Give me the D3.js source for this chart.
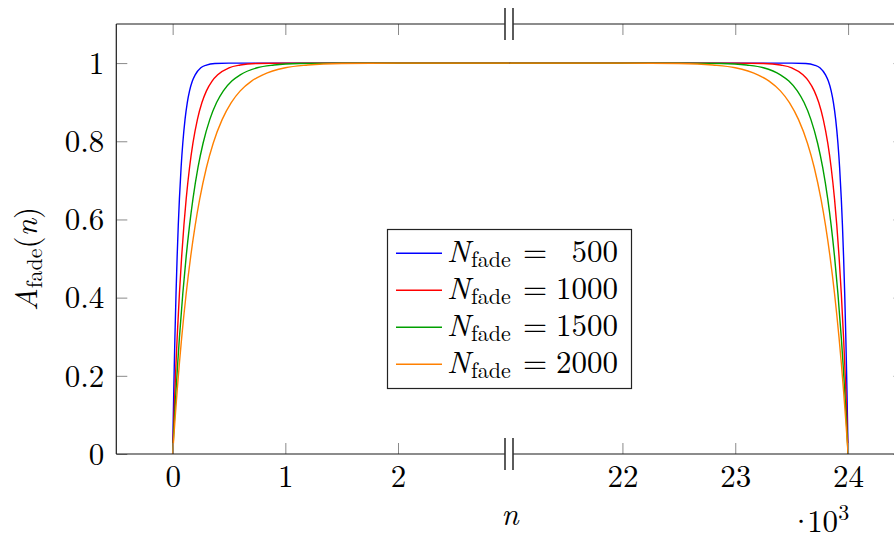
<!DOCTYPE html>
<html>
<head>
<meta charset="utf-8">
<script src="https://cdn.jsdelivr.net/npm/d3@7"></script>
<style>
  html, body { margin: 0; padding: 0; background: #fff; }
  svg { display: block; }
</style>
</head>
<body>
<svg id="chart" width="894" height="541"></svg>
<script>
// ---------------- data ----------------
const nEnd = 24000;                       // total signal length (samples)
const fadeLengths = [500, 1000, 1500, 2000];
const legendNumbers = ["500", "1000", "1500", "2000"];
const xTicksLeft = [0, 1000, 2000];
const xTicksRight = [22000, 23000, 24000];
const yTicks = [0, 0.2, 0.4, 0.6, 0.8, 1];

// distance from the nearest signal edge (samples) for each series
const edgeOffset500  = [0, 5, 10, 15, 20, 30, 40, 50, 60, 75, 90, 110, 130, 150, 175, 200, 250, 300, 375, 500, 750, 3000];
const edgeOffset1000 = [0, 10, 20, 30, 40, 60, 80, 100, 120, 150, 180, 220, 260, 300, 350, 400, 500, 600, 750, 1000, 1500, 3000];
const edgeOffset1500 = [0, 15, 30, 45, 60, 90, 120, 150, 180, 225, 270, 330, 390, 450, 525, 600, 750, 900, 1125, 1500, 2250, 3000];
const edgeOffset2000 = [0, 20, 40, 60, 80, 120, 160, 200, 240, 300, 360, 440, 520, 600, 700, 800, 1000, 1200, 1500, 2000, 2500, 3000];

// amplitude read at those offsets
const amp500  = [0, 0.084, 0.161, 0.232, 0.297, 0.410, 0.505, 0.585, 0.652, 0.733, 0.795, 0.856, 0.899, 0.929, 0.954, 0.970, 0.988, 0.995, 0.999, 1, 1, 1];
const amp1000 = [0, 0.084, 0.161, 0.232, 0.297, 0.410, 0.505, 0.585, 0.652, 0.733, 0.795, 0.856, 0.899, 0.929, 0.954, 0.970, 0.988, 0.995, 0.999, 1, 1, 1];
const amp1500 = [0, 0.084, 0.161, 0.232, 0.297, 0.410, 0.505, 0.585, 0.652, 0.733, 0.795, 0.856, 0.899, 0.929, 0.954, 0.970, 0.988, 0.995, 0.999, 1, 1, 1];
const amp2000 = [0, 0.084, 0.161, 0.232, 0.297, 0.410, 0.505, 0.585, 0.652, 0.733, 0.795, 0.856, 0.899, 0.929, 0.954, 0.970, 0.988, 0.995, 0.999, 1, 1, 1];

const seriesOffsets = [edgeOffset500, edgeOffset1000, edgeOffset1500, edgeOffset2000];
const seriesAmps = [amp500, amp1000, amp1500, amp2000];

// ---------------- style ----------------
const colors = ["#0000ff", "#ff0000", "#00a000", "#ff8000"];
const FS = 31;
const SUB = 22;
const SERIF = '"Latin Modern Roman", "Liberation Serif", serif';

// ---------------- layout ----------------
const svg = d3.select("#chart");
const xL = d3.scaleLinear().domain([-500, 3000]).range([116.3, 510.7]);
const xR = d3.scaleLinear().domain([21000, 24500]).range([509.6, 904.5]);
const y = d3.scaleLinear().domain([0, 1.1]).range([454, 24]);
const breakX = [505, 513];

const yTop = y.range()[1], yBot = y.range()[0];

// clip paths
const defs = svg.append("defs");
defs.append("clipPath").attr("id", "clipL").append("rect")
  .attr("x", xL.range()[0]).attr("y", yTop).attr("width", xL.range()[1] - xL.range()[0]).attr("height", yBot - yTop);
defs.append("clipPath").attr("id", "clipR").append("rect")
  .attr("x", xR.range()[0]).attr("y", yTop).attr("width", xR.range()[1] - xR.range()[0]).attr("height", yBot - yTop);

// ---------------- curves ----------------
const lineL = d3.line().x(d => xL(d[0])).y(d => y(d[1])).curve(d3.curveMonotoneX);
const lineR = d3.line().x(d => xR(d[0])).y(d => y(d[1])).curve(d3.curveMonotoneX);

const gL = svg.append("g").attr("clip-path", "url(#clipL)");
const gR = svg.append("g").attr("clip-path", "url(#clipR)");
fadeLengths.forEach((N, i) => {
  const off = seriesOffsets[i], amp = seriesAmps[i];
  const fadeIn = off.map((o, k) => [o, amp[k]]);
  const fadeOut = off.map((o, k) => [nEnd - o, amp[k]]).reverse();
  gL.append("path").attr("d", lineL(fadeIn)).attr("fill", "none")
    .attr("stroke", colors[i]).attr("stroke-width", 1.4);
  gR.append("path").attr("d", lineR(fadeOut)).attr("fill", "none")
    .attr("stroke", colors[i]).attr("stroke-width", 1.4);
});

// ---------------- axes ----------------
const tickLen = 11;
function styleAxis(g) {
  g.select(".domain").remove();
  g.selectAll(".tick line").attr("stroke", "#8a8a8a").attr("stroke-width", 1);
  g.selectAll(".tick text").style("font-family", SERIF).style("font-size", FS + "px").attr("fill", "#000");
}

// bottom left
svg.append("g").attr("transform", `translate(0,${yBot})`)
  .call(d3.axisBottom(xL).tickValues(xTicksLeft).tickSize(-tickLen).tickFormat(d => d / 1000))
  .call(styleAxis)
  .call(g => g.selectAll(".tick text").attr("y", 33).attr("dy", 0));
// bottom right
svg.append("g").attr("transform", `translate(0,${yBot})`)
  .call(d3.axisBottom(xR).tickValues(xTicksRight).tickSize(-tickLen).tickFormat(d => d / 1000))
  .call(styleAxis)
  .call(g => g.selectAll(".tick text").attr("y", 33).attr("dy", 0));
// top (mirrored ticks, no labels)
svg.append("g").attr("transform", `translate(0,${yTop})`)
  .call(d3.axisTop(xL).tickValues(xTicksLeft).tickSize(-tickLen).tickFormat(""))
  .call(styleAxis);
svg.append("g").attr("transform", `translate(0,${yTop})`)
  .call(d3.axisTop(xR).tickValues(xTicksRight).tickSize(-tickLen).tickFormat(""))
  .call(styleAxis);
// left
svg.append("g").attr("transform", `translate(${xL.range()[0]},0)`)
  .call(d3.axisLeft(y).tickValues(yTicks).tickSize(-tickLen).tickFormat(d => d3.format("")(d)))
  .call(styleAxis)
  .call(g => g.selectAll(".tick text").attr("x", -12).attr("dy", "0.33em"));
// right
svg.append("g").attr("transform", `translate(${xR.range()[1]},0)`)
  .call(d3.axisRight(y).tickValues(yTicks).tickSize(-tickLen).tickFormat(""))
  .call(styleAxis);

// spines
const spine = "#1a1a1a";
const sp = svg.append("g").attr("stroke", spine).attr("stroke-width", 1.2).attr("fill", "none");
[yTop, yBot].forEach(yy => {
  sp.append("line").attr("x1", xL.range()[0]).attr("x2", breakX[0]).attr("y1", yy).attr("y2", yy);
  sp.append("line").attr("x1", breakX[1]).attr("x2", xR.range()[1]).attr("y1", yy).attr("y2", yy);
});
sp.append("line").attr("x1", xL.range()[0]).attr("x2", xL.range()[0]).attr("y1", yTop).attr("y2", yBot);
sp.append("line").attr("x1", xR.range()[1]).attr("x2", xR.range()[1]).attr("y1", yTop).attr("y2", yBot);

// break marks
const bk = svg.append("g").attr("stroke", "#333").attr("stroke-width", 1.6);
[yTop, yBot].forEach(yy => {
  breakX.forEach(bx => {
    bk.append("line").attr("x1", bx).attr("x2", bx).attr("y1", yy - 16).attr("y2", yy + 16);
  });
});

// ---------------- labels ----------------
function txt(sel) { return sel.style("font-family", SERIF).attr("fill", "#000"); }

txt(svg.append("text")).attr("x", 510).attr("y", 525).attr("text-anchor", "middle")
  .style("font-size", FS + "px").style("font-style", "italic").text("n");

const mult = txt(svg.append("text")).attr("x", 789).attr("y", 532).style("font-size", FS + "px");
mult.append("tspan").text("·");
mult.append("tspan").attr("dx", -6).text("10");
mult.append("tspan").attr("dy", -12).style("font-size", SUB + "px").text("3");

const yl = txt(svg.append("text"))
  .attr("transform", "translate(37,259) rotate(-90)")
  .attr("text-anchor", "middle").style("font-size", FS + "px");
yl.append("tspan").style("font-style", "italic").text("A");
yl.append("tspan").attr("dy", 5).style("font-size", SUB + "px").text("fade");
yl.append("tspan").attr("dy", -5).text("(");
yl.append("tspan").style("font-style", "italic").text("n");
yl.append("tspan").text(")");

// ---------------- legend ----------------
const lg = svg.append("g");
lg.append("rect").attr("x", 387.5).attr("y", 229.5).attr("width", 244).attr("height", 159)
  .attr("fill", "#fff").attr("stroke", "#222").attr("stroke-width", 1.2);
fadeLengths.forEach((N, i) => {
  const cy = 253.3 + i * 37;
  lg.append("line").attr("x1", 396).attr("x2", 442).attr("y1", cy).attr("y2", cy)
    .attr("stroke", colors[i]).attr("stroke-width", 1.4);
  const t = txt(lg.append("text")).attr("x", 447).attr("y", cy + 8.5).style("font-size", FS + "px");
  t.append("tspan").style("font-style", "italic").text("N");
  t.append("tspan").attr("dy", 5).attr("dx", 1).style("font-size", SUB + "px").text("fade");
  txt(lg.append("text")).attr("x", 523).attr("y", cy + 8.5).style("font-size", FS + "px").text("=");
  txt(lg.append("text")).attr("x", 618).attr("y", cy + 8.5).attr("text-anchor", "end")
    .style("font-size", FS + "px").text(legendNumbers[i]);
});
</script>
</body>
</html>
